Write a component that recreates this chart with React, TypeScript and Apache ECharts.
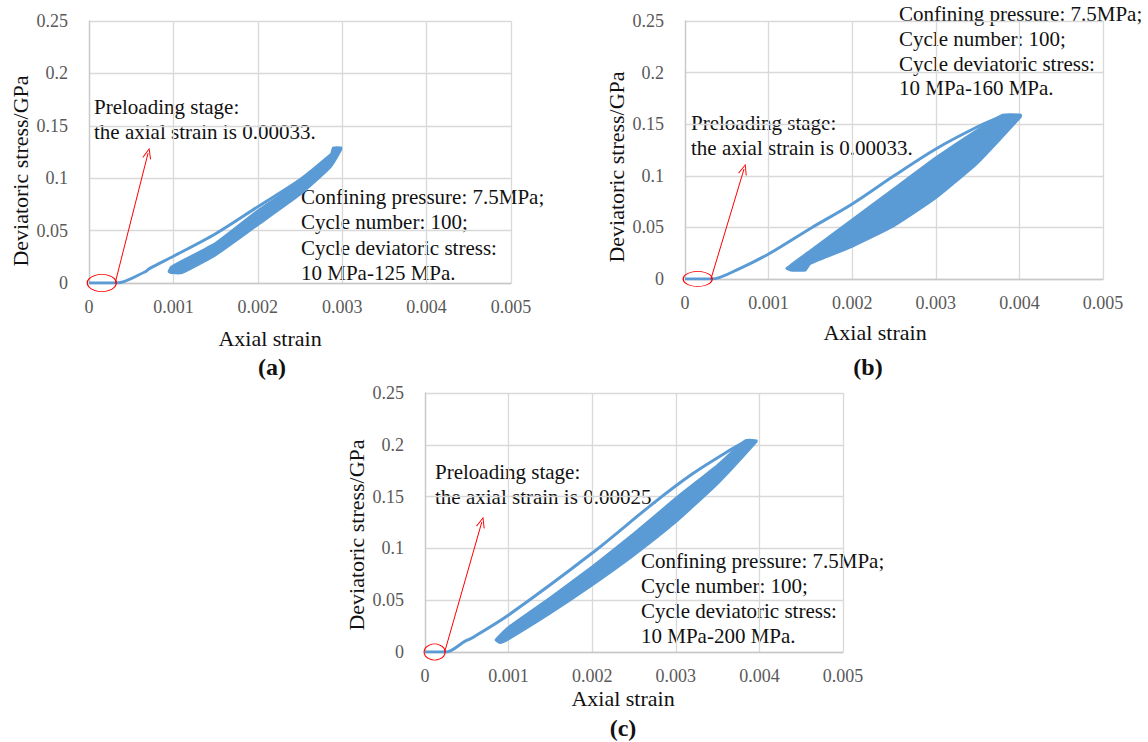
import React, { useEffect, useRef } from "react";
import * as echarts from "echarts";

// ---------- data (strain, deviatoric stress in GPa) ----------
// (a) 10 MPa - 125 MPa
const loadA = [[0, 0], [0.00033, 0], [0.00066, 0.0105], [0.00072, 0.014], [0.001, 0.0255], [0.0015, 0.047], [0.002, 0.0728], [0.0025, 0.0985], [0.00286, 0.122], [0.00297, 0.129]];
const bandUpperA = [[0.00094, 0.0105], [0.00097, 0.0155], [0.0015, 0.0385], [0.002, 0.0695], [0.0025, 0.097], [0.00286, 0.122], [0.00289, 0.1295], [0.00299, 0.1295]];
const bandLowerA = [[0.00299, 0.127], [0.00286, 0.11], [0.0025, 0.084], [0.002, 0.055], [0.0015, 0.0262], [0.0011, 0.0092], [0.00098, 0.0092]];
const preloadA = 0.00033;
const arrowTipA = [0.0007, 0.124];

// (b) 10 MPa - 160 MPa
const loadB = [[0, 0], [0.00032, 0], [0.00066, 0.0104], [0.001, 0.0242], [0.0015, 0.049], [0.002, 0.0727], [0.0025, 0.1], [0.003, 0.126], [0.0035, 0.1475], [0.0038, 0.158]];
const bandUpperB = [[0.00121, 0.0104], [0.0015, 0.028], [0.002, 0.058], [0.0025, 0.088], [0.003, 0.118], [0.0035, 0.145], [0.0038, 0.1595], [0.00402, 0.1595]];
const bandLowerB = [[0.00402, 0.157], [0.0035, 0.112], [0.003, 0.078], [0.0025, 0.051], [0.002, 0.031], [0.0015, 0.0145], [0.00144, 0.008], [0.00126, 0.008]];
const preloadB = 0.00033;
const arrowTipB = [0.000706, 0.1066];

// (c) 10 MPa - 200 MPa
const loadC = [[0, 0], [0.00025, 0], [0.00048, 0.0105], [0.00055, 0.013], [0.001, 0.0357], [0.002, 0.0955], [0.00273, 0.1435], [0.0032, 0.172], [0.0036, 0.1925], [0.00385, 0.204]];
const bandUpperC = [[0.00084, 0.0116], [0.001, 0.0245], [0.0015, 0.053], [0.002, 0.083], [0.0025, 0.115], [0.003, 0.149], [0.0035, 0.181], [0.00383, 0.2045], [0.00397, 0.2045]];
const bandLowerC = [[0.00397, 0.203], [0.0035, 0.162], [0.003, 0.125], [0.0025, 0.093], [0.002, 0.064], [0.0015, 0.037], [0.001, 0.012], [0.0009, 0.0084]];
const preloadC = 0.00025;
const arrowTipC = [0.00068, 0.1255];

// axes
const X_MIN = 0, X_MAX = 0.005, X_STEP = 0.001;
const Y_MIN = 0, Y_MAX = 0.25, Y_STEP = 0.05;

// texts
const xTitle = "Axial strain";
const yTitle = "Deviatoric stress/GPa";
const preTextAB = "Preloading stage:\nthe axial strain is 0.00033.";
const preTextC = "Preloading stage:\nthe axial strain is 0.00025.";
const condA = "Confining pressure: 7.5MPa;\nCycle number: 100;\nCycle deviatoric stress:\n10 MPa-125 MPa.";
const condB = "Confining pressure: 7.5MPa;\nCycle number: 100;\nCycle deviatoric stress:\n10 MPa-160 MPa.";
const condC = "Confining pressure: 7.5MPa;\nCycle number: 100;\nCycle deviatoric stress:\n10 MPa-200 MPa.";
const panelLabels = ["(a)", "(b)", "(c)"];

const BLUE = "#5B9BD5";
const RED = "#FF0000";
const FONT = "'Liberation Serif','Times New Roman',serif";
const ARROW = "path://M0,10 L5,0 L10,10 L8.8,10 L5,2.2 L1.2,10 Z";

export default function App() {
  const ref = useRef<HTMLDivElement>(null);
  useEffect(() => {
    if (!ref.current) return;
    const chart = echarts.init(ref.current, null, { renderer: "svg" });

    const panels = [
      { grid: { left: 89, top: 21, width: 422, height: 262 }, load: loadA, band: [...bandUpperA, ...bandLowerA], pre: preloadA, tip: arrowTipA, ell: [29, 17] },
      { grid: { left: 685, top: 21, width: 418, height: 258 }, load: loadB, band: [...bandUpperB, ...bandLowerB], pre: preloadB, tip: arrowTipB, ell: [29, 15] },
      { grid: { left: 425, top: 393, width: 418, height: 259 }, load: loadC, band: [...bandUpperC, ...bandLowerC], pre: preloadC, tip: arrowTipC, ell: [21, 16] },
    ];

    const gridLine = { show: true, lineStyle: { color: "#D9D9D9", width: 1.3 } };
    const axisLine = { show: true, lineStyle: { color: "#C8C8C8", width: 1.3 } };
    const tickLabel = { color: "#595959", fontFamily: FONT, fontSize: 18 };

    const series: any[] = [];
    panels.forEach((p, i) => {
      const band = p.band;
      series.push({
        type: "custom",
        xAxisIndex: i,
        yAxisIndex: i,
        data: band,
        encode: { x: 0, y: 1 },
        clip: true,
        silent: true,
        renderItem: (params: any, api: any) => {
          if (params.dataIndex !== 0) return null;
          const pts = band.map((pt) => api.coord(pt));
          return { type: "polygon", shape: { points: pts, smooth: 0.15 }, style: { fill: BLUE, stroke: BLUE, lineWidth: 1.5 } };
        },
      });
      series.push({
        type: "line",
        xAxisIndex: i,
        yAxisIndex: i,
        data: p.load,
        showSymbol: false,
        smooth: 0.3,
        lineStyle: { color: BLUE, width: 3 },
        silent: true,
        markLine: {
          silent: true,
          symbol: ["none", ARROW],
          symbolSize: [9, 11],
          lineStyle: { color: RED, width: 1, type: "solid" },
          label: { show: false },
          emphasis: { disabled: true },
          data: [[{ coord: [p.pre * 0.94, 0] }, { coord: p.tip }]],
        },
        markPoint: {
          silent: true,
          symbol: "circle",
          symbolSize: p.ell,
          itemStyle: { color: "rgba(255,255,255,0)", borderColor: RED, borderWidth: 1 },
          label: { show: false },
          data: [{ coord: [p.pre * 0.46, 0] }],
        },
      });
    });

    const txt = (x: number, y: number, text: string, extra: any = {}) => ({
      type: "text",
      x,
      y,
      silent: true,
      style: { text, fill: "#111", fontFamily: FONT, fontSize: 21, ...extra },
    });
    const center = { align: "center", verticalAlign: "middle" };

    const graphic: any[] = [
      txt(94, 94, preTextAB, { lineHeight: 25.5 }),
      txt(301, 184, condA, { lineHeight: 25.5 }),
      txt(691, 110, preTextAB, { lineHeight: 25 }),
      txt(899, 2, condB, { lineHeight: 24.7 }),
      txt(435, 459, preTextC, { lineHeight: 25 }),
      txt(641, 548, condC, { lineHeight: 25 }),
      txt(270, 338, xTitle, { fontSize: 22, ...center }),
      txt(875, 332, xTitle, { fontSize: 22, ...center }),
      txt(623, 698, xTitle, { fontSize: 22, ...center }),
      { ...txt(20, 171, yTitle, { fontSize: 22, ...center }), rotation: Math.PI / 2 },
      { ...txt(616, 167, yTitle, { fontSize: 22, ...center }), rotation: Math.PI / 2 },
      { ...txt(356, 535, yTitle, { fontSize: 22, ...center }), rotation: Math.PI / 2 },
      txt(272, 367, panelLabels[0], { fontSize: 24, fontWeight: "bold", ...center }),
      txt(868, 367, panelLabels[1], { fontSize: 24, fontWeight: "bold", ...center }),
      txt(623, 728, panelLabels[2], { fontSize: 24, fontWeight: "bold", ...center }),
    ];

    chart.setOption({
      animation: false,
      backgroundColor: "#fff",
      grid: panels.map((p) => ({ ...p.grid, containLabel: false })),
      xAxis: panels.map((_, i) => ({
        type: "value",
        gridIndex: i,
        min: X_MIN,
        max: X_MAX,
        interval: X_STEP,
        splitLine: gridLine,
        axisLine,
        axisTick: { show: false },
        axisLabel: { ...tickLabel, margin: 15, formatter: (v: number) => String(+v.toFixed(3)) },
      })),
      yAxis: panels.map((_, i) => ({
        type: "value",
        gridIndex: i,
        min: Y_MIN,
        max: Y_MAX,
        interval: Y_STEP,
        splitLine: gridLine,
        axisLine,
        axisTick: { show: false },
        axisLabel: { ...tickLabel, margin: 21, formatter: (v: number) => String(+v.toFixed(2)) },
      })),
      series,
      graphic,
    });

    return () => chart.dispose();
  }, []);

  return <div ref={ref} style={{ position: "absolute", left: 0, top: 0, width: 1148, height: 742 }} />;
}
